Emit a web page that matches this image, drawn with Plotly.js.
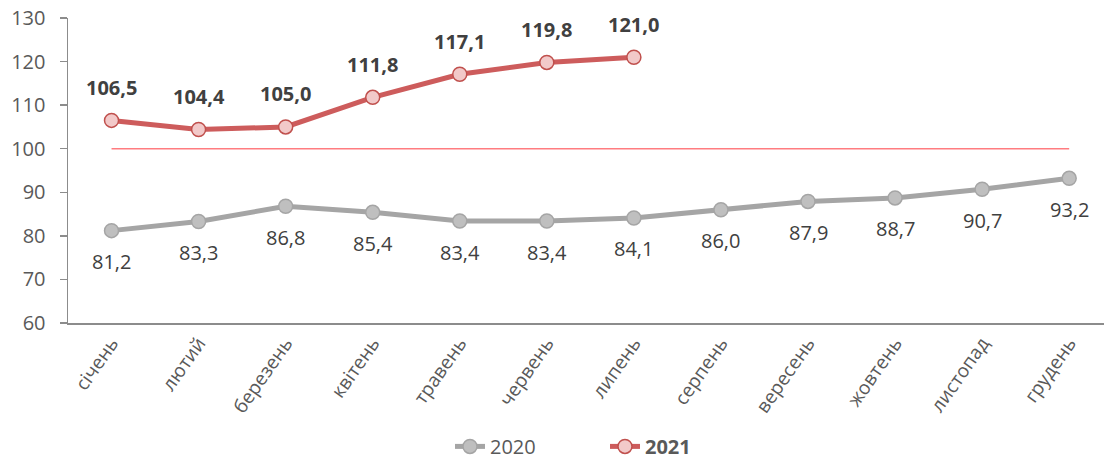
<!DOCTYPE html>
<html>
<head>
<meta charset="utf-8">
<script src="https://cdn.plot.ly/plotly-3.0.1.min.js"></script>
<style>html,body{margin:0;padding:0;background:#fff;}#chart{width:1104px;height:465px;}</style>
</head>
<body>
<div id="chart"></div>
<script>
const months = ['січень','лютий','березень','квітень','травень','червень','липень','серпень','вересень','жовтень','листопад','грудень'];
const values2020 = [81.2, 83.3, 86.8, 85.4, 83.4, 83.4, 84.1, 86.0, 87.9, 88.7, 90.7, 93.2];
const values2021 = [106.5, 104.4, 105.0, 111.8, 117.1, 119.8, 121.0];
const refValues = [100, 100, 100, 100, 100, 100, 100, 100, 100, 100, 100, 100];
const yTicks = [60, 70, 80, 90, 100, 110, 120, 130];

const fmt = v => v.toFixed(1).replace('.', ',');
const FONT = '"Open Sans", "Noto Sans", sans-serif';

const traces = [
  {
    x: months, y: refValues, type: 'scatter', mode: 'lines',
    line: {color: '#FF7C80', width: 1.5}, showlegend: false, hoverinfo: 'skip'
  },
  {
    x: months, y: values2020, type: 'scatter', mode: 'lines+markers', name: '2020',
    line: {color: '#A5A5A5', width: 5},
    marker: {size: 14, color: '#BFBFBF', line: {color: '#A5A5A5', width: 1.5}}
  },
  {
    x: months.slice(0, values2021.length), y: values2021, type: 'scatter', mode: 'lines+markers', name: '<b>2021</b>',
    line: {color: '#CD5C5C', width: 5},
    marker: {size: 14, color: '#F2C9C9', line: {color: '#C0504D', width: 1.5}}
  }
];

const annotations = [];
values2020.forEach((v, i) => annotations.push({
  x: months[i], y: v, xref: 'x', yref: 'y', text: fmt(v), showarrow: false, yshift: -31,
  font: {family: FONT, size: 20, color: '#404040'}
}));
values2021.forEach((v, i) => annotations.push({
  x: months[i], y: v, xref: 'x', yref: 'y', text: '<b>' + fmt(v) + '</b>', showarrow: false, yshift: 33,
  font: {family: FONT, size: 20, color: '#404040'}
}));

const layout = {
  width: 1104, height: 465,
  margin: {l: 68, r: 0, t: 18, b: 142},
  paper_bgcolor: '#fff', plot_bgcolor: '#fff',
  font: {family: FONT, color: '#595959'},
  xaxis: {
    type: 'category', range: [-0.5, 11.4], showgrid: false, zeroline: false,
    showline: true, linecolor: '#8C8C8C', linewidth: 1.5,
    ticks: '', tickangle: -55, tickfont: {family: FONT, size: 19, color: '#595959'}
  },
  yaxis: {
    range: [60, 130], tickvals: yTicks, showgrid: false, zeroline: false,
    showline: true, linecolor: '#8C8C8C', linewidth: 1.5,
    ticks: 'outside', ticklen: 7, tickcolor: '#8C8C8C', tickwidth: 1.5,
    ticklabelstandoff: 10,
    tickfont: {family: FONT, size: 20, color: '#595959'}
  },
  legend: {
    orientation: 'h', xref: 'container', yref: 'container',
    x: 0.548, xanchor: 'center', y: 0.04, yanchor: 'middle',
    entrywidth: 110,
    font: {family: FONT, size: 20, color: '#595959'}
  },
  annotations: annotations
};

Plotly.newPlot('chart', traces, layout, {staticPlot: true, displayModeBar: false});
</script>
</body>
</html>
